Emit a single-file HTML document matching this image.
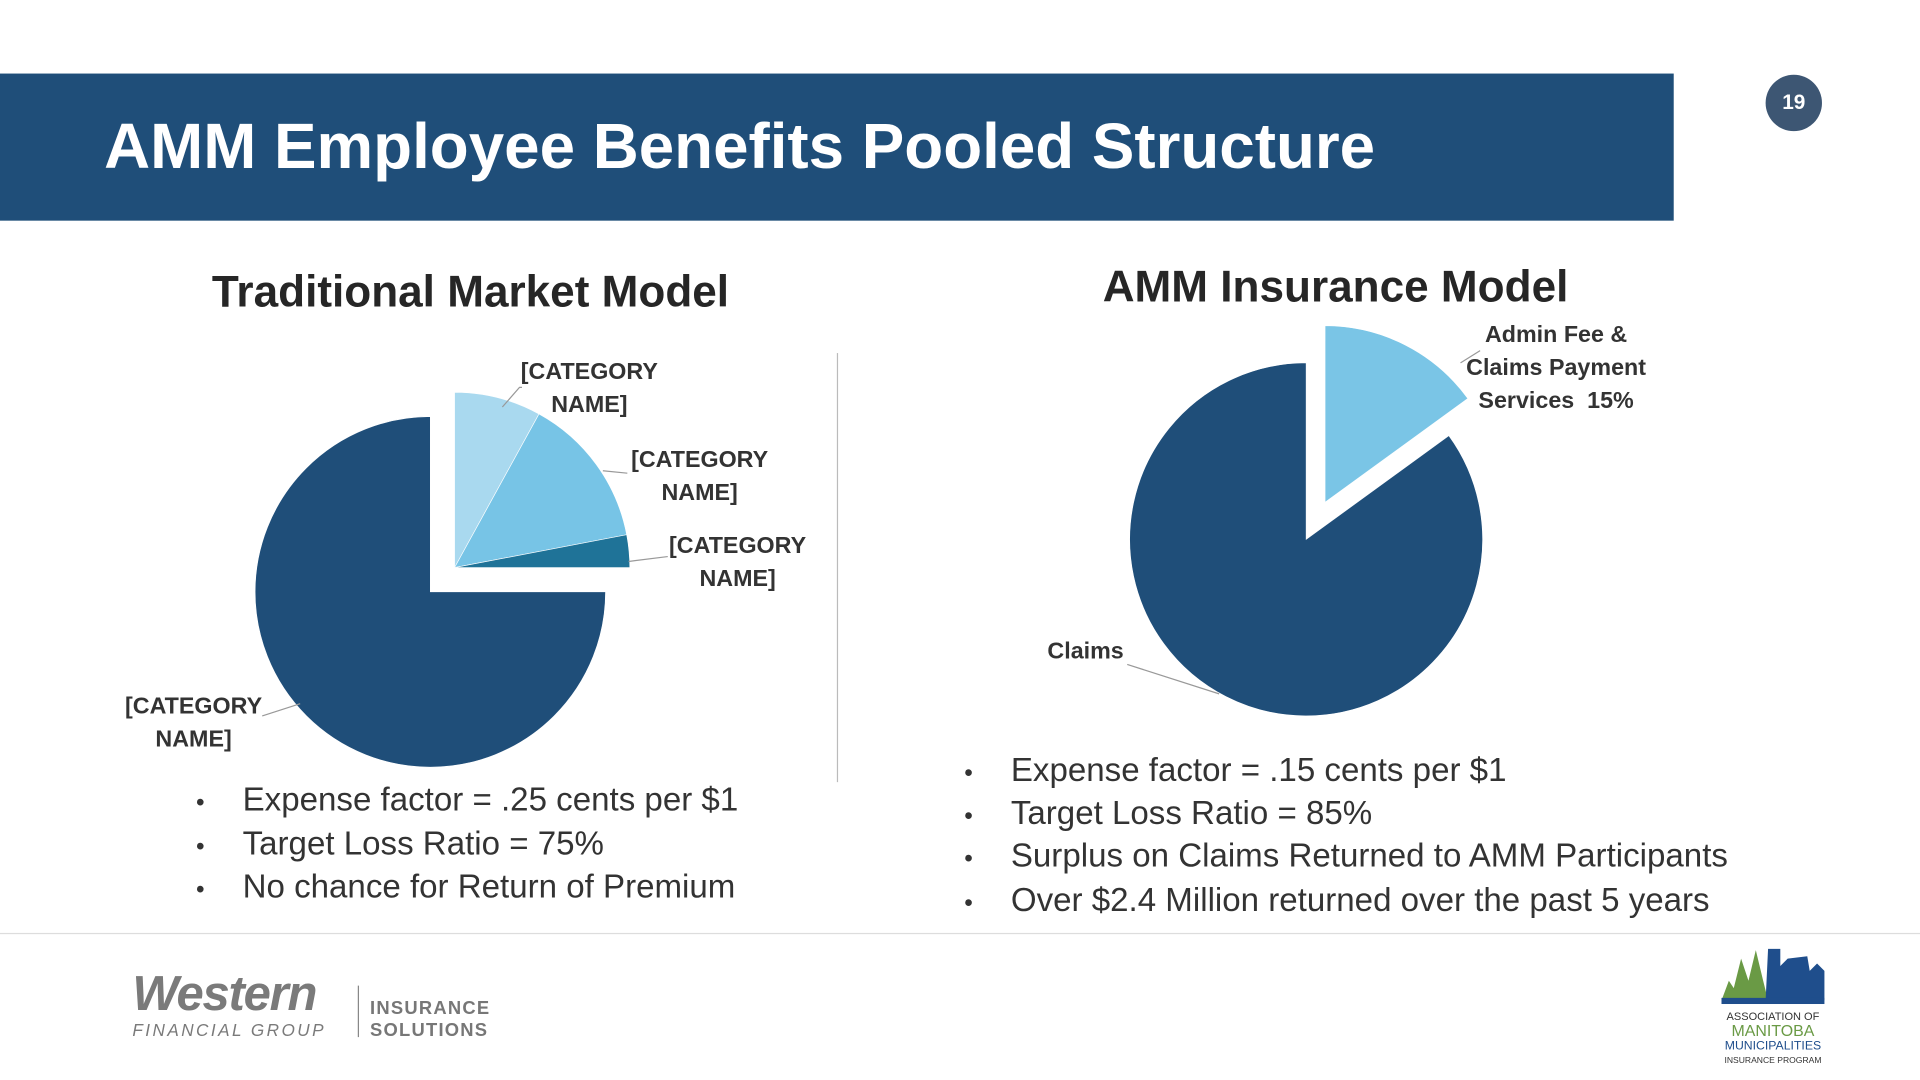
<!DOCTYPE html>
<html><head><meta charset="utf-8">
<style>
html,body{margin:0;padding:0;background:#fff;}
#wrap{width:1567px;height:881px;position:relative;transform:scale(1.22527,1.2259);transform-origin:0 0;font-family:"Liberation Sans",sans-serif;overflow:hidden;}
.abs{position:absolute;}
.lbl{position:absolute;font-size:19px;font-weight:bold;color:#333;text-align:center;line-height:27px;}
.bul{position:absolute;font-size:27px;color:#333;white-space:nowrap;}
.bul span{display:inline-block;width:38px;font-size:20px;}
</style></head><body>
<div id="wrap">
  <div class="abs" style="left:0;top:60px;width:1366px;height:120px;background:#1f4e79;"></div>
  <div class="abs" style="left:85px;top:90px;font-size:52px;font-weight:bold;color:#fff;white-space:nowrap;">AMM Employee Benefits Pooled Structure</div>
  <div class="abs" style="left:1441px;top:61px;width:46px;height:46px;border-radius:50%;background:#3d5673;color:#fff;font-size:17px;font-weight:bold;text-align:center;line-height:46px;">19</div>

  <div class="abs" style="left:104px;top:217px;width:560px;text-align:center;font-size:36px;font-weight:bold;color:#262626;">Traditional Market Model</div>
  <div class="abs" style="left:810px;top:213px;width:560px;text-align:center;font-size:36px;font-weight:bold;color:#262626;">AMM Insurance Model</div>
  <div class="abs" style="left:683px;top:288px;width:1px;height:350px;background:#bbb;"></div>

  <svg class="abs" id="charts" style="left:0;top:0" width="1567" height="881"></svg>

  <div class="lbl" style="left:418px;top:290px;width:126px;">[CATEGORY<br>NAME]</div>
  <div class="lbl" style="left:508px;top:362px;width:126px;">[CATEGORY<br>NAME]</div>
  <div class="lbl" style="left:539px;top:432px;width:126px;">[CATEGORY<br>NAME]</div>
  <div class="lbl" style="left:95px;top:563px;width:126px;">[CATEGORY<br>NAME]</div>
  <div class="lbl" style="left:1186px;top:260px;width:168px;">Admin Fee &amp;<br>Claims Payment<br>Services&nbsp; 15%</div>
  <div class="lbl" style="left:850px;top:518px;width:72px;">Claims</div>

  <div class="bul" style="left:160px;top:637px;"><span>•</span>Expense factor = .25 cents per $1</div>
  <div class="bul" style="left:160px;top:673px;"><span>•</span>Target Loss Ratio = 75%</div>
  <div class="bul" style="left:160px;top:708px;"><span>•</span>No chance for Return of Premium</div>
  <div class="bul" style="left:787px;top:613px;"><span>•</span>Expense factor = .15 cents per $1</div>
  <div class="bul" style="left:787px;top:648px;"><span>•</span>Target Loss Ratio = 85%</div>
  <div class="bul" style="left:787px;top:683px;"><span>•</span>Surplus on Claims Returned to AMM Participants</div>
  <div class="bul" style="left:787px;top:719px;"><span>•</span>Over $2.4 Million returned over the past 5 years</div>

  <div class="abs" style="left:0;top:761px;width:1567px;height:1px;background:#ddd;"></div>

  <div class="abs" style="left:108px;top:790px;">
    <div style="font-size:40px;font-weight:bold;font-style:italic;color:#7a7a7a;letter-spacing:-1px;line-height:42px;">Western</div>
    <div style="font-size:14px;font-style:italic;color:#7a7a7a;letter-spacing:2px;">FINANCIAL GROUP</div>
  </div>
  <div class="abs" style="left:292px;top:804px;width:1px;height:42px;background:#888;"></div>
  <div class="abs" style="left:302px;top:814px;font-size:15px;font-weight:bold;color:#777;letter-spacing:1px;line-height:18px;">INSURANCE<br>SOLUTIONS</div>

  <svg class="abs" style="left:1403px;top:770px" width="90" height="100">
    <polygon points="2,46 8,30 12,36 18,12 24,30 30,5 36,30 40,46" fill="#6a9a45"/>
    <polygon points="38,46 40,4 50,4 50,18 56,12 72,10 74,22 80,16 86,22 86,46" fill="#1f4e8c"/>
    <rect x="2" y="44" width="84" height="5" fill="#1f4e8c"/>
    <text x="44" y="62" font-size="9" fill="#333" text-anchor="middle">ASSOCIATION OF</text>
    <text x="44" y="75" font-size="13" fill="#6a9a45" text-anchor="middle">MANITOBA</text>
    <text x="44" y="86" font-size="10" fill="#1f4e8c" text-anchor="middle">MUNICIPALITIES</text>
    <text x="44" y="97" font-size="7" fill="#333" text-anchor="middle">INSURANCE PROGRAM</text>
  </svg>
</div>
<script>
const leftCategories = ["[CATEGORY NAME] 1","[CATEGORY NAME] 2","[CATEGORY NAME] 3","[CATEGORY NAME] 4"];
const leftValues = [8, 14, 3, 75];
const leftExplode = [0, 0, 0, 1];
const rightCategories = ["Admin Fee & Claims Payment Services","Claims"];
const rightValues = [15, 85];
const rightExplode = [1, 0];

const svg = document.getElementById('charts');
const NS = 'http://www.w3.org/2000/svg';
function pt(cx, cy, r, f){ const a = 2*Math.PI*f; return [cx + r*Math.sin(a), cy - r*Math.cos(a)]; }
function drawPie(name, cats, vals, expl, cx, cy, r, colors, dist){
  const tot = vals.reduce((a,b)=>a+b,0);
  let acc = 0;
  vals.forEach((v,i)=>{
    const f0 = acc/tot, f1 = (acc+v)/tot; acc += v;
    const mid = (f0+f1)/2;
    const d = expl[i] ? dist : 0;
    const ox = cx + d*Math.sin(2*Math.PI*mid), oy = cy - d*Math.cos(2*Math.PI*mid);
    const p0 = pt(ox,oy,r,f0), p1 = pt(ox,oy,r,f1);
    const large = (f1-f0) > 0.5 ? 1 : 0;
    const path = document.createElementNS(NS,'path');
    path.setAttribute('d', `M${ox},${oy} L${p0[0]},${p0[1]} A${r},${r} 0 ${large} 1 ${p1[0]},${p1[1]} Z`);
    path.setAttribute('fill', colors[i]);
    path.setAttribute('stroke', '#fff');
    path.setAttribute('stroke-width', '0.5');
    
    
    const t = document.createElementNS(NS,'title'); t.textContent = cats[i] + ': ' + v + '%';
    path.appendChild(t);
    svg.appendChild(path);
  });
}
drawPie('left-pie', leftCategories, leftValues, leftExplode, 371, 463, 143, ['#a9d9ef','#77c4e6','#1f7398','#1f4e79'], 28);
drawPie('right-pie', rightCategories, rightValues, rightExplode, 1066, 440, 144, ['#7ac5e6','#1f4e79'], 34);

function leader(name, pts){
  const l = document.createElementNS(NS,'polyline');
  l.setAttribute('points', pts);
  l.setAttribute('fill','none');
  l.setAttribute('stroke','#999');
  l.setAttribute('stroke-width','1');
  
  
  svg.appendChild(l);
}
leader('leader-cat-1','410,332 424,316 426,316');
leader('leader-cat-2','492,384 512,386');
leader('leader-cat-3','513,458 545,454');
leader('leader-cat-4','245,574 214,584');
leader('leader-admin','1192,296 1208,286');
leader('leader-claims','995,566 920,542');
</script>
</body></html>
